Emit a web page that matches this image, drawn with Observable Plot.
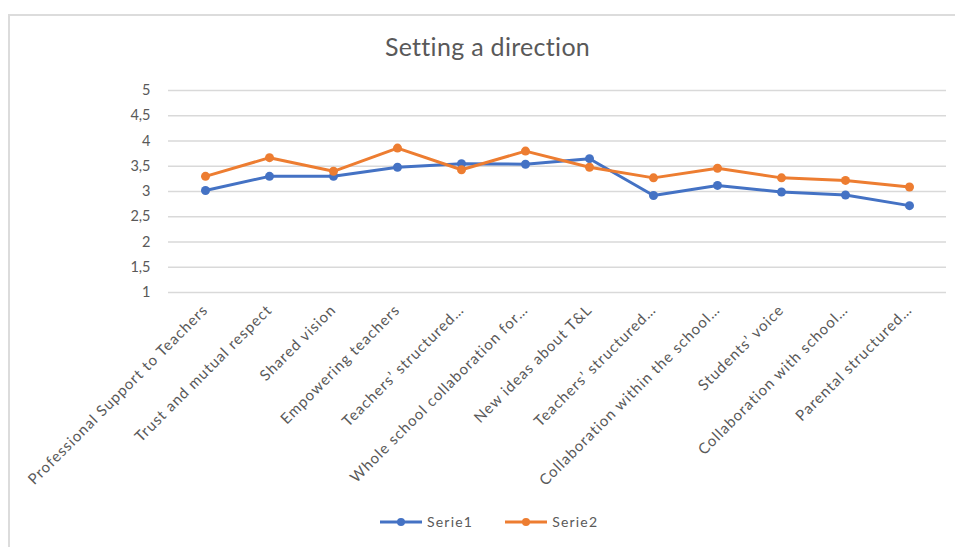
<!DOCTYPE html>
<html>
<head>
<meta charset="utf-8">
<script src="https://cdn.jsdelivr.net/npm/d3@7"></script>
<script src="https://cdn.jsdelivr.net/npm/@observablehq/plot@0.6"></script>
<style>
  html, body { margin: 0; padding: 0; background: #fff; }
  #wrap { position: relative; width: 955px; height: 547px; overflow: hidden; font-family: Lato, "Open Sans", sans-serif; }
  #frame { position: absolute; left: 8px; top: 14px; width: 960px; height: 560px; border-top: 2px solid #dcdcdc; border-left: 2px solid #dcdcdc; }
  #title { position: absolute; left: 0; width: 975px; top: 31px; text-align: center; font-size: 25px; color: #595959; letter-spacing: 0.3px; }
  #chart { position: absolute; left: 0; top: 0; }
  #chart g[aria-label="x-axis tick label"] text { letter-spacing: 1px; }
  #legend { position: absolute; top: 513px; left: 378px; display: flex; gap: 30px; font-size: 14px; color: #595959; align-items: center; letter-spacing: 1.2px; }
  .item { display: flex; align-items: center; gap: 3px; }
</style>
</head>
<body>
<div id="wrap">
  <div id="frame"></div>
  <div id="chart"></div>
  <div id="title">Setting a direction</div>
  <div id="legend"></div>
</div>
<script>
const categories = [
  "Professional Support to Teachers",
  "Trust and mutual respect",
  "Shared vision",
  "Empowering teachers",
  "Teachers’ structured…",
  "Whole school collaboration for…",
  "New ideas about T&L",
  "Teachers’ structured…",
  "Collaboration within the school…",
  "Students’ voice",
  "Collaboration with school…",
  "Parental structured…"
];
const serie1 = [3.02, 3.30, 3.30, 3.48, 3.55, 3.54, 3.65, 2.92, 3.12, 2.99, 2.93, 2.72];
const serie2 = [3.30, 3.67, 3.40, 3.86, 3.43, 3.80, 3.48, 3.27, 3.46, 3.27, 3.22, 3.09];
const seriesNames = ["Serie1", "Serie2"];
const seriesColors = ["#4472C4", "#ED7D31"];
const yTicks = [1, 1.5, 2, 2.5, 3, 3.5, 4, 4.5, 5];

const idx = categories.map((c, i) => i);
const data = [];
[serie1, serie2].forEach((s, k) => s.forEach((v, i) => data.push({i, cat: categories[i], value: v, series: seriesNames[k]})));

const fmt = v => String(v).replace(".", ",");

const chart = Plot.plot({
  width: 955,
  height: 500,
  marginTop: 90,
  marginBottom: 208,
  marginLeft: 168,
  marginRight: 9,
  style: {fontFamily: "Lato, 'Open Sans', sans-serif", fontSize: "14px", color: "#595959", background: "transparent"},
  x: {type: "band", domain: idx, padding: 0, label: null},
  y: {domain: [1, 5], label: null},
  color: {domain: seriesNames, range: seriesColors},
  marks: [
    Plot.gridY(yTicks, {stroke: "#d9d9d9", strokeOpacity: 1, strokeWidth: 1.5}),
    Plot.axisY(yTicks, {tickSize: 0, tickPadding: 18, tickFormat: fmt, fontSize: 14.5, fill: "#595959"}),
    Plot.axisX(idx, {tickSize: 0, tickPadding: 15, tickRotate: -45, tickFormat: i => categories[i], fontSize: 15, fill: "#595959"}),
    Plot.line(data, {x: "i", y: "value", stroke: "series", strokeWidth: 3, curve: "linear"}),
    Plot.dot(data, {x: "i", y: "value", fill: "series", r: 4.5, symbol: "circle"})
  ]
});
document.getElementById("chart").appendChild(chart);

const legend = document.getElementById("legend");
seriesNames.forEach((name, k) => {
  const item = document.createElement("div");
  item.className = "item";
  item.innerHTML = `<svg width="46" height="12"><line x1="2" x2="44" y1="6" y2="6" stroke="${seriesColors[k]}" stroke-width="3"/><circle cx="23" cy="6" r="4" fill="${seriesColors[k]}"/></svg><span>${name}</span>`;
  legend.appendChild(item);
});
</script>
</body>
</html>
